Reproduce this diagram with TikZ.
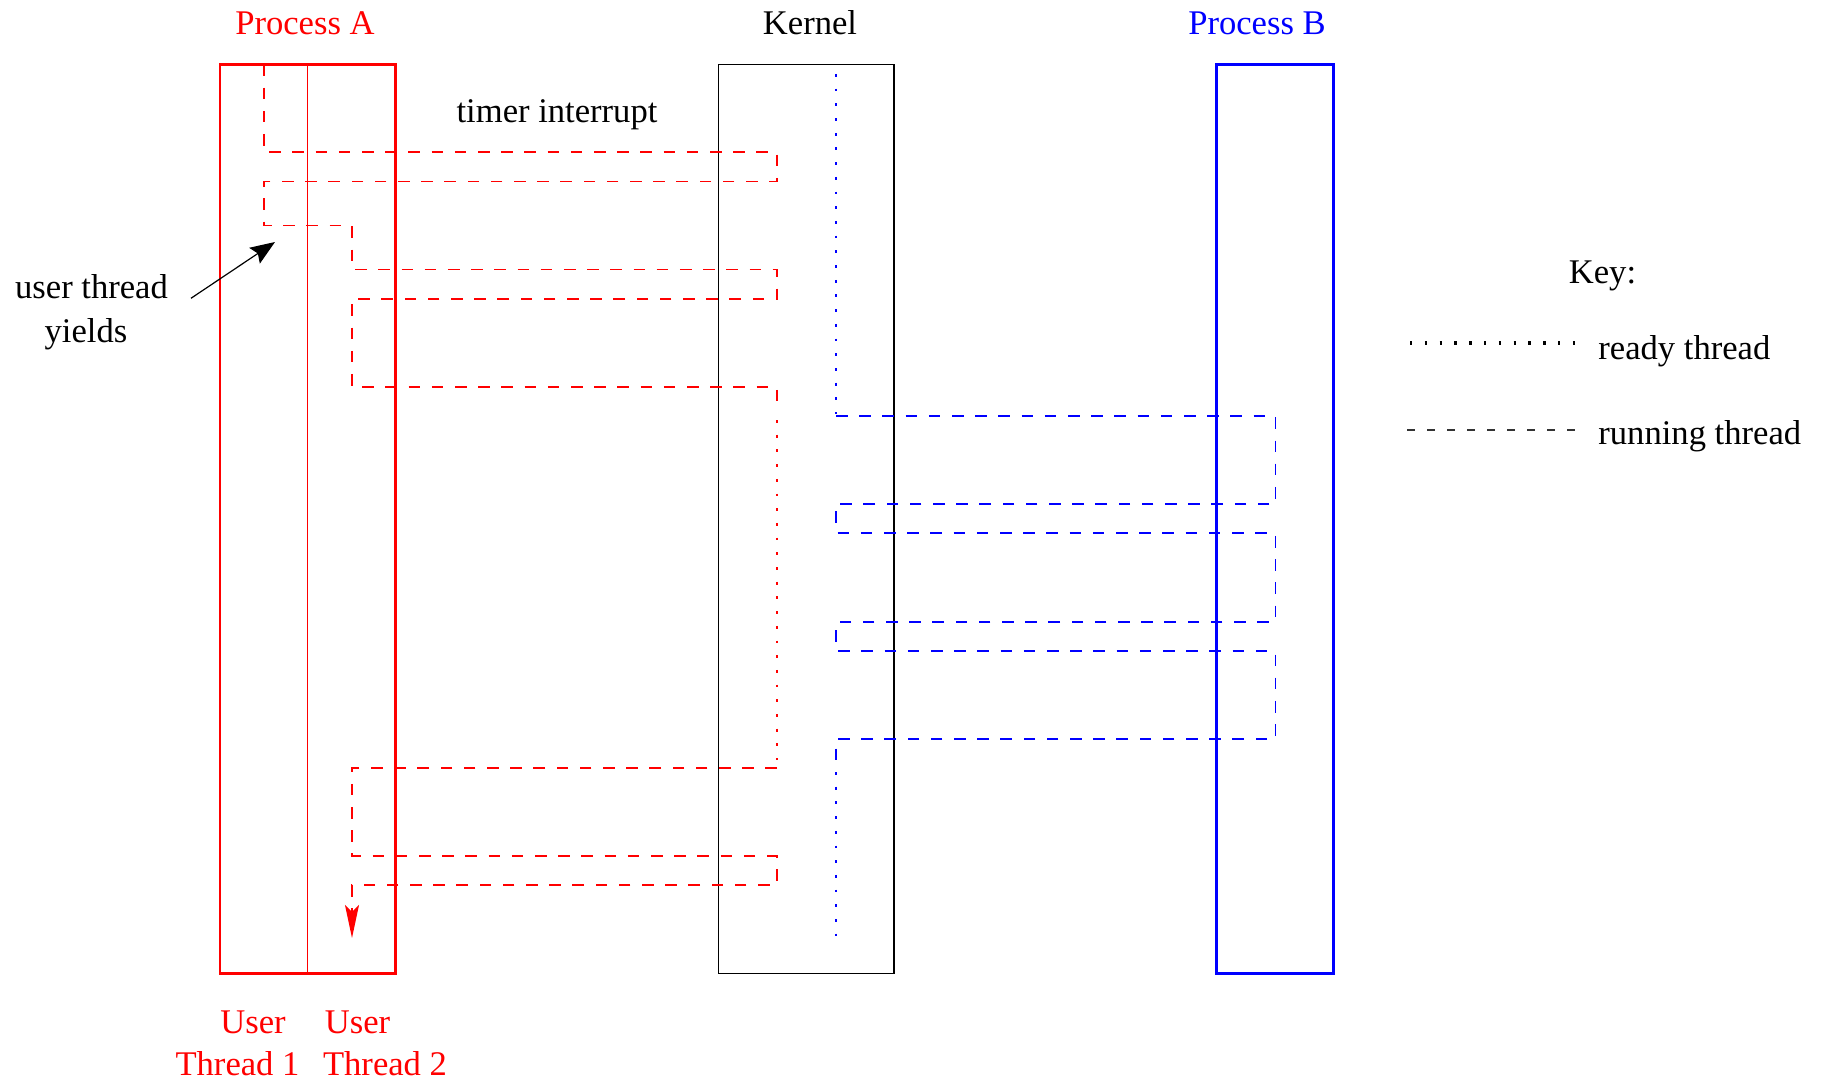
\documentclass[tikz,border=0pt]{standalone}
\usepackage{fontspec}
\setmainfont{Liberation Serif}
\usetikzlibrary{arrows.meta}
\definecolor{pred}{RGB}{255,0,0}
\definecolor{pblue}{RGB}{0,0,255}
\tikzset{
  lbl/.style={inner sep=0pt, anchor=base, font=\fontsize{17.3}{21}\selectfont},
  procbox/.style={line width=1.35pt},
  kernbox/.style={line width=0.65pt, draw=black},
  runline/.style={line width=0.75pt, dash pattern=on 5.8pt off 5.8pt},
  readyline/.style={line width=1.45pt, dash pattern=on 1.4pt off 5.95pt},
}
\begin{document}
\begin{tikzpicture}[x=0.5pt,y=-0.5pt]
\useasboundingbox (0,0) rectangle (1828,1081);

% boxes
\draw[procbox, pred] (220,64.4) rectangle (395.8,973.7);
\draw[line width=0.6pt, pred] (307.8,64.4) -- (307.8,973.7);
\draw[kernbox] (718.7,64.4) rectangle (894,973.7);
\draw[procbox, pblue] (1216.5,64.4) rectangle (1333.7,973.7);

% titles
\node[lbl, text=pred] (pa) at (305,35) {Process A};
\node[lbl] (kn) at (810,35) {Kernel};
\node[lbl, text=pblue] (pb) at (1257,35) {Process B};
\node[lbl] (ti) at (557,123) {timer interrupt};

% user thread yields
\node[lbl] (ut1) at (91.5,299) {user thread};
\node[lbl] (ut2) at (86,343) {yields};
\coordinate (yfrom) at (191,298.3);
\coordinate (yto) at (275,242);
\draw[line width=0.6pt, -{Stealth[length=12.3pt,width=9.5pt,inset=2pt]}] (yfrom) -- (yto);

% bottom labels
\node[lbl, text=pred] (u1) at (253,1033) {User};
\node[lbl, text=pred] (t1) at (237.5,1075) {Thread 1};
\node[lbl, text=pred] (u2) at (357.5,1033) {User};
\node[lbl, text=pred] (t2) at (385,1075) {Thread 2};

% red thread paths
\draw[runline, pred] (264,64.4) -- (264,152) -- (777,152) -- (777,181.5) -- (264,181.5)
  -- (264,225.6) -- (352,225.6) -- (352,269.7) -- (777,269.7) -- (777,299) -- (352,299)
  -- (352,387) -- (777,387) -- (777,410);
\draw[readyline, pred] (777,420) -- (777,760);
\draw[runline, pred, -{Stealth[length=16.5pt,width=7pt,inset=3.5pt]}] (777,768) -- (352,768)
  -- (352,856) -- (777,856) -- (777,885) -- (352,885) -- (352,938);

% blue thread paths
\draw[readyline, pblue] (836,74) -- (836,414);
\draw[runline, pblue] (836,416) -- (1275.5,416) -- (1275.5,504) -- (836,504) -- (836,533)
  -- (1275.5,533) -- (1275.5,622) -- (836,622) -- (836,651) -- (1275.5,651)
  -- (1275.5,739) -- (836,739) -- (836,768);
\draw[readyline, pblue] (836,772) -- (836,936);

% key
\node[lbl] (key) at (1602.5,284) {Key:};
\node[lbl, anchor=base west] (kr) at (1598,359) {ready thread};
\node[lbl, anchor=base west] (kd) at (1598,444) {running thread};
\draw[line width=1.9pt, dash pattern=on 1.2pt off 6.2pt] (1410,343) -- (1576,343);
\draw[line width=0.6pt, black!80, dash pattern=on 4pt off 6pt] (1407,430) -- (1583,430);
\end{tikzpicture}
\end{document}
